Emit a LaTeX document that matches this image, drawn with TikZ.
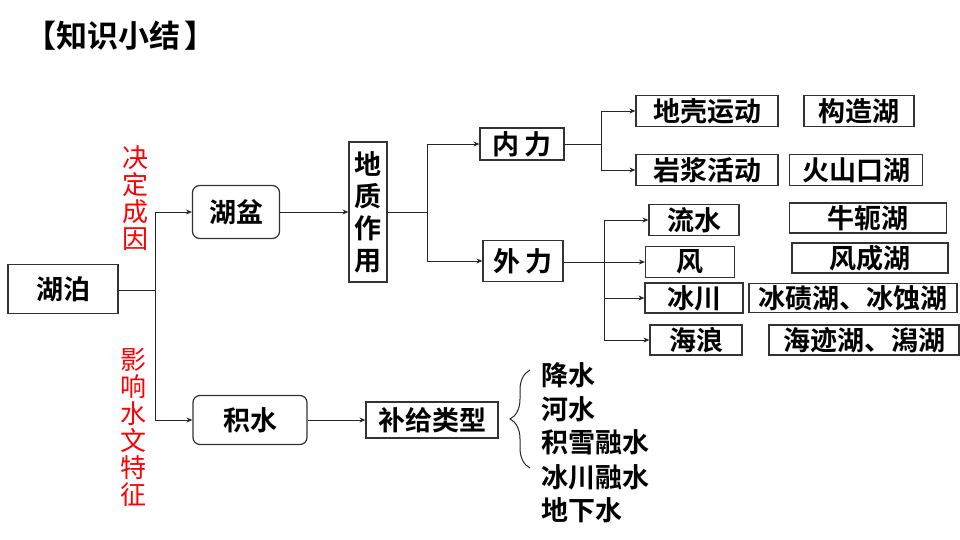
\documentclass[tikz,border=0pt]{standalone}
\usepackage{fontspec}
\setmainfont{Noto Sans CJK SC}[BoldFont={Noto Sans CJK SC Bold}]
\usetikzlibrary{arrows.meta,decorations.pathreplacing}
\tikzset{
  box/.style={draw=black!80,line width=1.2pt,font=\bfseries\fontsize{27}{30}\selectfont,inner sep=0pt,align=center},
  rbox/.style={box,rounded corners=7pt},
  lbl/.style={font=\bfseries\fontsize{27}{30}\selectfont,inner sep=0pt,anchor=west},
  red/.style={text=red,font=\fontsize{26}{27}\selectfont,inner sep=0pt,align=center},
  conn/.style={draw=black!85,line width=0.9pt},
  arr/.style={conn,-{Stealth[length=6pt,width=5pt]}},
}
\begin{document}
\begin{tikzpicture}[x=1pt,y=-1pt]
\useasboundingbox (0,0) rectangle (960,540);
\node[font=\bfseries\fontsize{31}{34}\selectfont,inner sep=0pt] (title) at (120,36) {【知识小结\hspace{4pt}】};

\node[box,minimum width=110pt,minimum height=49pt] (hupo) at (63,289) {湖泊};
\node[red] (r1) at (135,198) {决\\定\\成\\因};
\node[red] (r2) at (133,427) {影\\响\\水\\文\\特\\征};

\node[rbox,minimum width=87pt,minimum height=53pt] (hupen) at (236,212) {湖盆};
\node[rbox,minimum width=114pt,minimum height=49pt] (jishui) at (250,420) {积水};

\node[box,minimum width=38pt,minimum height=140pt] (dizhi) at (368,212) {地\\[2pt]质\\[2pt]作\\[2pt]用};

\node[box,minimum width=84pt,minimum height=32pt] (neili) at (522,144) {内\,力};
\node[box,minimum width=80pt,minimum height=41pt] (waili) at (523,261) {外\,力};

\node[box,minimum width=142pt,minimum height=31pt] (dike) at (707,111) {地壳运动};
\node[box,minimum width=110pt,minimum height=31pt] (gouzao) at (859,111) {构造湖};
\node[box,minimum width=142pt,minimum height=31pt] (yanjiang) at (707,170) {岩浆活动};
\node[box,minimum width=133pt,minimum height=31pt] (huoshan) at (856,170) {火山口湖};

\node[box,minimum width=90pt,minimum height=31pt] (liushui) at (694,220) {流水};
\node[box,minimum width=89pt,minimum height=31pt] (feng) at (690,262) {风};
\node[box,minimum width=98pt,minimum height=30pt] (bingchuan) at (694,298) {冰川};
\node[box,minimum width=92pt,minimum height=30pt] (hailang) at (696,340) {海浪};

\node[box,minimum width=157pt,minimum height=30pt] (niue) at (868,218) {牛轭湖};
\node[box,minimum width=156pt,minimum height=30pt] (fengcheng) at (870,258) {风成湖};
\node[box,minimum width=208pt,minimum height=29pt] (bingqi) at (853,298) {冰碛湖、冰蚀湖};
\node[box,minimum width=190pt,minimum height=30pt] (haiji) at (864,340) {海迹湖、潟湖};

\node[box,minimum width=132pt,minimum height=36pt] (buji) at (432,420) {补给类型};

\node[lbl] (l1) at (541,375) {降水};
\node[lbl] (l2) at (541,409) {河水};
\node[lbl] (l3) at (541,442) {积雪融水};
\node[lbl] (l4) at (541,477) {冰川融水};
\node[lbl] (l5) at (541,510) {地下水};

% connectors
\coordinate (j1) at (155,290);
\draw[conn] (hupo.east |- j1) -- (j1);
\draw[arr] (j1) |- (hupen.west);
\draw[arr] (j1) |- (jishui.west);

\draw[arr] (hupen.east) -- (dizhi.west |- hupen.east);

\coordinate (j2) at (427,212);
\draw[conn] (dizhi.east |- j2) -- (j2);
\draw[arr] (j2) |- (neili.west);
\draw[arr] (j2) |- (waili.west);

\coordinate (j3) at (601,144);
\draw[conn] (neili.east) -- (j3);
\draw[arr] (j3) |- (dike.west);
\draw[arr] (j3) |- (yanjiang.west);

\coordinate (j4) at (604,262);
\draw[conn] (waili.east |- j4) -- (j4);
\draw[arr] (j4) |- (liushui.west);
\draw[arr] (j4) |- (feng.west);
\draw[arr] (j4) |- (bingchuan.west);
\draw[arr] (j4) |- (hailang.west);

\draw[arr] (jishui.east) -- (buji.west);

\coordinate (b1) at (530,468);
\coordinate (b2) at (530,370);
\draw[draw=black!85,line width=1pt,decorate,decoration={brace,amplitude=20pt,aspect=0.5}] (b1) -- (b2);
\end{tikzpicture}
\end{document}
